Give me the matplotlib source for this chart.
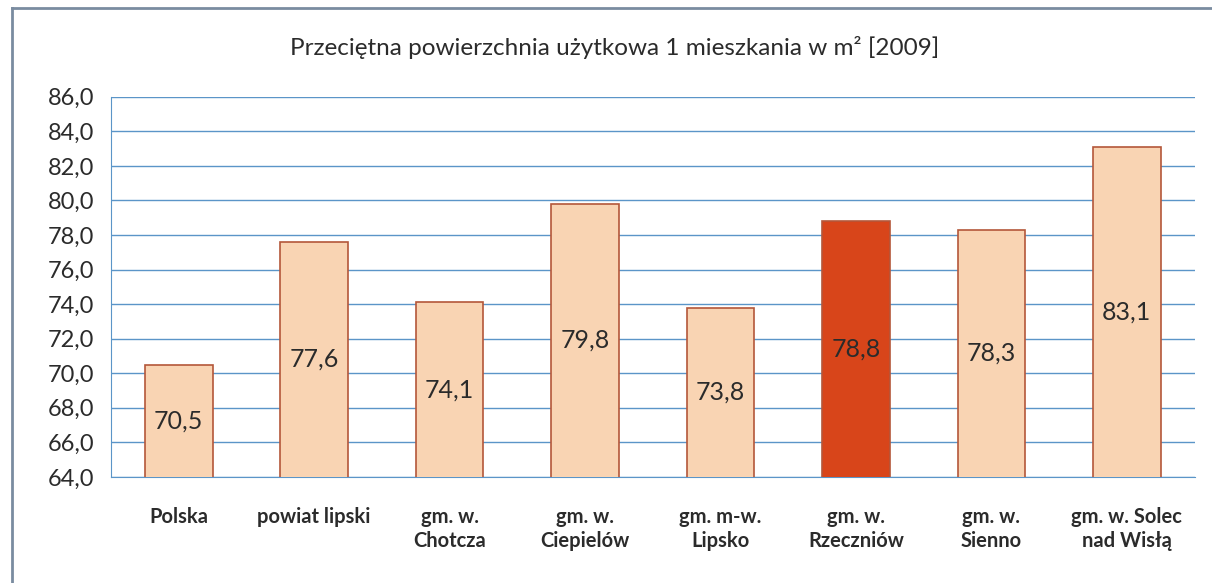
import matplotlib
matplotlib.use("Agg")
import matplotlib.pyplot as plt
from matplotlib.lines import Line2D

plt.rcParams["font.family"] = ["Lato", "DejaVu Sans"]

# data
categories = ["Polska", "powiat lipski", "gm. w.\nChotcza", "gm. w.\nCiepielów",
              "gm. m-w.\nLipsko", "gm. w.\nRzeczniów", "gm. w.\nSienno",
              "gm. w. Solec\nnad Wisłą"]
values = [70.5, 77.6, 74.1, 79.8, 73.8, 78.8, 78.3, 83.1]
highlight = "gm. w.\nRzeczniów"
yticks = [64, 66, 68, 70, 72, 74, 76, 78, 80, 82, 84, 86]

FACE = "#F9D4B3"
FACE_HI = "#D8451A"
EDGE = "#B4573A"
GRID = "#5B95C8"
TEXT = "#2B2B2B"

fig = plt.figure(figsize=(12.12, 5.83), dpi=100)
ax = fig.add_axes([0.0916, 0.182, 0.894, 0.652])

colors = [FACE_HI if c == highlight else FACE for c in categories]
x = range(len(categories))
bars = ax.bar(x, values, width=0.5, bottom=0, color=colors, edgecolor=EDGE,
              linewidth=1.2, zorder=3)

ax.set_ylim(64, 86)
ax.set_xlim(-0.5, len(categories) - 0.5)
ax.set_yticks(yticks)
ax.set_yticklabels([f"{v:.1f}".replace(".", ",") for v in yticks],
                   fontsize=17, color=TEXT)
ax.set_xticks(list(x))
ax.set_xticklabels(categories, fontsize=14.5, fontweight="bold", color=TEXT,
                   linespacing=1.25)
ax.tick_params(axis="both", length=0)
ax.tick_params(axis="x", pad=22)
ax.tick_params(axis="y", pad=12)

ax.grid(axis="y", color=GRID, linewidth=1.0, zorder=0)
for side in ["top", "right"]:
    ax.spines[side].set_visible(False)
ax.spines["left"].set_color(GRID)
ax.spines["bottom"].set_color(GRID)

# value labels in the middle of each bar
for b, v in zip(bars, values):
    ax.text(b.get_x() + b.get_width() / 2, (64 + v) / 2,
            f"{v:.1f}".replace(".", ","), ha="center", va="center",
            fontsize=18, color=TEXT, zorder=4)

fig.text(0.507, 0.918, "Przeciętna powierzchnia użytkowa 1 mieszkania w m² [2009]",
         ha="center", va="center", fontsize=17.5, color=TEXT)

# outer frame (left and top edges visible)
fig.add_artist(Line2D([0.0095, 0.0095], [0.0, 0.986], transform=fig.transFigure,
                      color="#7A8CA0", linewidth=2))
fig.add_artist(Line2D([0.0095, 1.0], [0.986, 0.986], transform=fig.transFigure,
                      color="#7A8CA0", linewidth=2))

fig.savefig("out.png", dpi=100)
